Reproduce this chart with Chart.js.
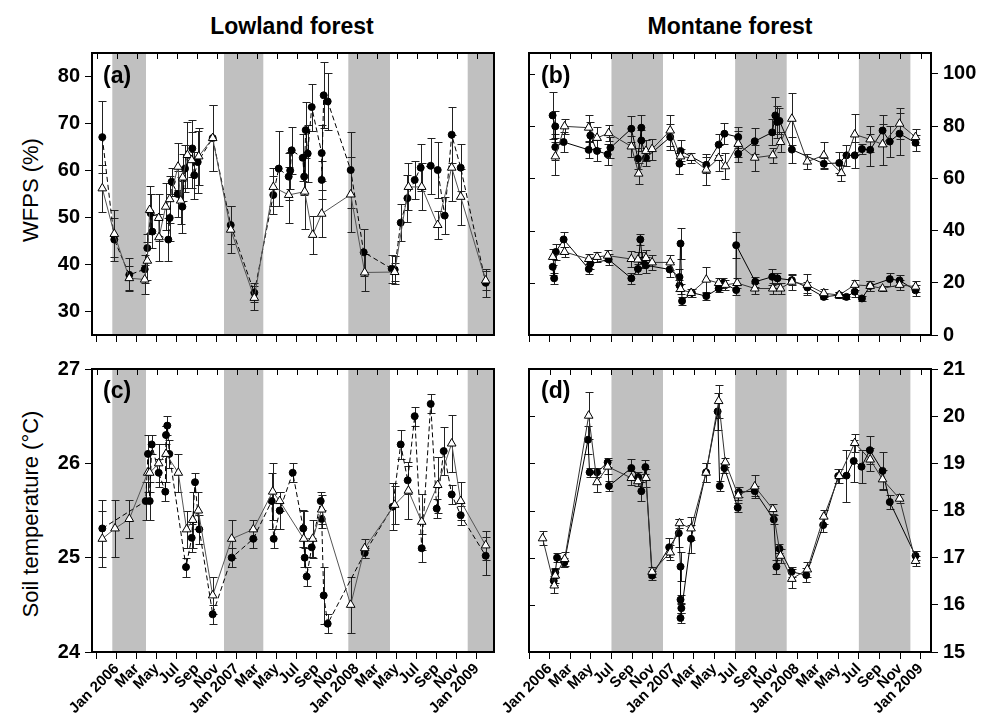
<!DOCTYPE html>
<html>
<head>
<meta charset="utf-8">
<script src="https://cdn.jsdelivr.net/npm/chart.js@4.4.1/dist/chart.umd.min.js"></script>
<style>
  body { margin: 0; background: #fff; width: 982px; height: 720px; position: relative; overflow: hidden;
         font-family: Arial, "Liberation Sans", sans-serif; color: #000; }
  canvas { position: absolute; }
  .title { position: absolute; top: 13px; font-weight: bold; font-size: 23px; transform: translateX(-50%); white-space: nowrap; }
  .ytitle { position: absolute; font-size: 22px; transform: translate(-50%, -50%) rotate(-90deg); white-space: nowrap; }
  .tag { position: absolute; font-weight: bold; font-size: 23px; line-height: 1; }
</style>
</head>
<body>
<div class="title" style="left:292px">Lowland forest</div>
<div class="title" style="left:730px">Montane forest</div>
<div class="ytitle" style="left:31px; top:190px">WFPS (%)</div>
<div class="ytitle" style="left:31px; top:514px">Soil temperature (°C)</div>

<canvas id="wfpsLow" width="510" height="355" style="left:0; top:0"></canvas>
<canvas id="wfpsMont" width="484" height="355" style="left:498px; top:0"></canvas>
<canvas id="tempLow" width="510" height="380" style="left:0; top:340px"></canvas>
<canvas id="tempMont" width="484" height="380" style="left:498px; top:340px"></canvas>

<div class="tag" style="left:103px; top:64px">(a)</div>
<div class="tag" style="left:541px; top:64px">(b)</div>
<div class="tag" style="left:103px; top:379px">(c)</div>
<div class="tag" style="left:541px; top:379px">(d)</div>

<script>
const FONT = 'Arial, "Liberation Sans", sans-serif';

// x values are months counted from Jan 2006
const monthLabels = ['Jan 2006', 'Mar', 'May', 'Jul', 'Sep', 'Nov',
  'Jan 2007', 'Mar', 'May', 'Jul', 'Sep', 'Nov',
  'Jan 2008', 'Mar', 'May', 'Jul', 'Sep', 'Nov', 'Jan 2009'];
const xTickMonths = [-2, 0, 2, 4, 6, 8, 10, 12, 14, 16, 18, 20, 22, 24, 26, 28, 30, 32, 34, 36];

// shaded seasons [from, to]
const lowlandShade = [[-0.44, 2.93], [10.73, 14.66], [23.16, 27.33], [35.1, 40]];
const montaneShade = [[6, 11], [18, 23], [30, 35]];

const lowWfpsTicks = [30, 40, 50, 60, 70, 80];
const montWfpsTicks = [0, 20, 40, 60, 80, 100];
const lowTempTicks = [24, 25, 26, 27];
const montTempTicks = [15, 16, 17, 18, 19, 20, 21];

// [month, mean, error]
const lowWfpsDots = [[-1.44, 67.1, 7.6], [-0.24, 45.3, 4.5], [1.26, 37.8, 3.5], [2.8, 39.0, 3], [3.06, 43.5, 3],
  [3.4, 50.9, 4], [3.56, 47.0, 3.5], [5.16, 45.3, 4.5], [5.3, 49.9, 5], [5.5, 57.6, 3], [6.1, 55.0, 5],
  [6.57, 52.3, 5.5], [6.83, 60.4, 5], [7.56, 64.7, 6], [7.76, 59.0, 5], [8.1, 61.8, 6.5], [9.6, 66.9, 7],
  [11.4, 48.4, 4], [13.76, 34.0, 2], [15.66, 54.8, 4], [16.2, 60.4, 8], [17.2, 58.7, 5], [17.35, 60.0, 4],
  [17.5, 64.3, 5], [18.6, 62.7, 5], [18.75, 58.7, 4], [18.9, 68.6, 6], [19.1, 63.6, 6], [19.5, 73.5, 5],
  [20.5, 63.7, 6], [20.5, 58.0, 4], [20.7, 76.0, 7], [21.1, 74.7, 6], [23.4, 60.1, 8], [24.7, 42.6, 5],
  [27.5, 39.1, 3], [27.8, 38.9, 3], [28.4, 48.9, 4], [29.07, 54.1, 5], [29.8, 58.0, 4], [30.4, 60.6, 5],
  [31.4, 61.0, 6], [32.1, 60.1, 6], [32.8, 50.4, 4], [33.5, 67.6, 6], [34.4, 60.6, 5], [36.9, 36.1, 3]];
const lowWfpsTris = [[-1.44, 56.2, 5], [-0.24, 46.5, 5], [1.26, 37.1, 2.5], [2.8, 36.8, 3], [3.06, 40.8, 4],
  [3.3, 51.6, 5], [4.2, 49.9, 5], [4.23, 45.8, 5], [4.9, 52.3, 5], [5.3, 53.9, 5], [6.13, 60.8, 5],
  [6.4, 53.6, 5], [6.6, 58.5, 5], [7.07, 63.3, 7], [7.5, 62.2, 6], [8.2, 63.0, 6], [9.6, 66.9, 7],
  [11.4, 47.4, 5], [13.76, 32.9, 2.5], [15.66, 56.5, 4], [17.2, 54.8, 6], [18.8, 55.5, 8], [19.6, 46.3, 4],
  [20.5, 50.8, 5], [23.4, 54.9, 8], [24.8, 38.3, 4], [27.8, 38.4, 2], [29.17, 56.5, 5], [30.5, 56.5, 5],
  [32.1, 48.4, 3], [33.5, 60.6, 7], [34.4, 54.4, 6], [36.9, 36.6, 2]];

const montWfpsDotsHigh = [[0.29, 84.1, 9], [0.55, 79.9, 6], [0.55, 72.0, 5], [1.36, 73.9, 4], [3.79, 70.9, 3],
  [3.95, 76.4, 5], [4.6, 70.5, 4], [5.63, 69.2, 4], [5.9, 71.7, 4], [7.93, 79.0, 5], [8.57, 67.5, 4],
  [8.9, 79.4, 5], [8.9, 74.5, 4], [9.35, 67.9, 3], [11.7, 75.8, 5], [12.6, 65.6, 4], [12.7, 70.5, 4],
  [15.2, 65.2, 3], [16.4, 72.9, 4], [16.96, 77.1, 4], [18.3, 75.8, 4], [18.3, 69.4, 3], [19.9, 74.2, 5],
  [21.6, 77.6, 5], [21.9, 84.1, 7], [22.07, 81.6, 6], [22.3, 82.0, 5], [23.5, 71.0, 5], [26.6, 65.6, 2],
  [28.1, 65.9, 4], [28.8, 68.8, 4], [29.6, 68.8, 5], [30.3, 71.2, 2], [31.1, 70.9, 6], [32.3, 78.3, 6],
  [33.0, 74.1, 6], [33.95, 77.1, 8], [35.5, 73.6, 3]];
const montWfpsTrisHigh = [[0.56, 68.4, 7], [1.45, 79.9, 3], [3.79, 79.4, 5], [4.6, 75.5, 4], [5.73, 77.3, 3],
  [7.93, 72.2, 4], [8.64, 61.8, 4], [9.35, 70.5, 4], [9.94, 71.2, 4], [11.7, 78.3, 6], [12.7, 68.4, 3],
  [13.73, 67.8, 2], [15.2, 63.3, 6], [16.4, 67.8, 5], [17.05, 64.6, 5], [18.3, 73.2, 5], [19.9, 67.9, 5],
  [21.65, 68.8, 3], [22.4, 73.9, 4], [23.5, 82.8, 10], [25.0, 66.4, 3], [26.6, 68.8, 5], [28.3, 62.0, 3],
  [29.6, 76.8, 8], [31.1, 74.9, 5], [32.3, 73.0, 8], [33.95, 80.9, 6], [35.5, 75.8, 3]];
const montWfpsDotsLow = [[0.3, 26.1, 3], [0.44, 21.7, 2], [0.6, 31.8, 3], [1.36, 36.6, 3], [3.8, 25.3, 2],
  [3.95, 27.3, 2], [5.73, 28.9, 2], [7.93, 21.7, 2], [8.57, 25.3, 2], [8.8, 36.6, 2], [9.0, 28.6, 3],
  [9.35, 26.7, 3], [11.65, 25.1, 3], [12.6, 22.2, 3], [12.6, 19.0, 2], [12.7, 35.0, 6], [12.85, 13.0, 1.5],
  [13.8, 16.2, 1.5], [15.2, 14.9, 1.5], [16.4, 17.8, 1.5], [16.85, 20.0, 2], [18.1, 17.2, 2], [18.1, 34.4, 5],
  [19.95, 20.4, 2], [21.6, 22.3, 3], [22.1, 21.7, 2], [23.5, 21.0, 2], [25.0, 18.2, 2], [26.6, 14.6, 1],
  [28.1, 15.3, 1], [28.8, 14.6, 1], [29.6, 16.6, 2], [30.3, 14.0, 1], [31.1, 18.8, 2], [33.0, 21.4, 2.5],
  [33.95, 20.9, 2], [35.5, 17.1, 2]];
const montWfpsTrisLow = [[0.3, 29.9, 3], [1.45, 31.8, 2], [3.8, 29.1, 2], [4.6, 29.9, 2], [5.63, 30.4, 2],
  [7.93, 29.1, 3], [8.57, 28.9, 3], [9.35, 29.5, 3], [9.94, 27.8, 3], [11.7, 27.8, 3], [12.7, 17.6, 2],
  [13.73, 16.1, 1.5], [15.2, 21.2, 5], [16.4, 19.9, 2], [17.05, 19.2, 2], [18.2, 19.9, 2], [19.9, 17.8, 2],
  [21.65, 17.8, 2], [22.4, 17.8, 2], [23.5, 20.4, 3], [25.0, 19.2, 4], [26.6, 16.0, 1.5], [28.1, 15.3, 1],
  [29.6, 19.2, 2], [31.1, 18.8, 2], [32.3, 17.8, 1], [33.95, 19.2, 2], [35.5, 18.5, 2]];

const lowTempDots = [[-1.44, 25.31, 0.3], [2.9, 25.6, 0.2], [3.13, 26.1, 0.2], [3.3, 25.6, 0.2], [3.5, 26.2, 0.1],
  [4.2, 25.9, 0.15], [4.86, 25.7, 0.1], [4.93, 26.3, 0.1], [5.06, 26.4, 0.1], [5.26, 26.1, 0.15],
  [6.93, 24.9, 0.1], [7.5, 25.21, 0.15], [7.83, 25.8, 0.1], [8.26, 25.3, 0.15], [9.6, 24.4, 0.1],
  [11.5, 25.0, 0.1], [13.66, 25.2, 0.1], [15.5, 25.6, 0.3], [15.7, 25.2, 0.1], [16.3, 25.5, 0.2],
  [17.6, 25.9, 0.1], [18.66, 25.31, 0.2], [18.8, 25.0, 0.1], [19.0, 24.8, 0.1], [19.5, 25.11, 0.1],
  [20.4, 25.6, 0.1], [20.5, 25.41, 0.1], [20.7, 24.6, 0.3], [21.1, 24.3, 0.1], [24.8, 25.05, 0.05],
  [27.6, 25.54, 0.25], [28.4, 26.2, 0.15], [29.1, 25.82, 0.15], [29.8, 26.5, 0.1], [30.5, 25.1, 0.15],
  [31.4, 26.63, 0.1], [32.0, 25.52, 0.1], [32.7, 26.13, 0.25], [33.5, 25.67, 0.1], [34.4, 25.45, 0.1],
  [36.9, 25.02, 0.2]];
const lowTempTris = [[-1.44, 25.2, 0.3], [-0.17, 25.31, 0.3], [1.26, 25.41, 0.2], [3.1, 25.9, 0.2],
  [3.3, 25.9, 0.2], [4.2, 26.0, 0.2], [4.93, 26.1, 0.3], [6.16, 25.9, 0.2], [6.99, 25.3, 0.2],
  [7.6, 25.4, 0.3], [8.16, 25.5, 0.2], [9.6, 24.6, 0.2], [11.5, 25.2, 0.2], [13.66, 25.3, 0.1],
  [15.6, 25.7, 0.3], [16.3, 25.6, 0.1], [18.7, 25.2, 0.3], [19.6, 25.2, 0.2], [20.5, 25.51, 0.15],
  [23.4, 24.5, 0.3], [24.8, 25.1, 0.1], [27.8, 25.56, 0.2], [29.17, 25.71, 0.3], [30.5, 25.38, 0.3],
  [32.1, 25.77, 0.3], [33.5, 26.21, 0.3], [34.4, 25.6, 0.2], [36.9, 25.13, 0.15]];

const montTempDots = [[0.4, 16.51, 0.1], [0.55, 16.69, 0.1], [0.72, 17.0, 0.1], [1.43, 16.9, 0.1],
  [3.72, 19.5, 0.3], [3.88, 18.81, 0.1], [4.6, 18.81, 0.1], [5.63, 19.02, 0.1], [5.76, 18.52, 0.1],
  [7.93, 18.9, 0.2], [8.6, 18.71, 0.1], [8.9, 18.41, 0.2], [9.29, 18.92, 0.15], [9.94, 16.62, 0.1],
  [11.6, 17.22, 0.2], [12.53, 17.52, 0.3], [12.7, 16.81, 0.3], [12.7, 16.11, 0.1], [12.78, 15.93, 0.1],
  [12.7, 15.72, 0.1], [13.72, 17.4, 0.3], [15.18, 18.81, 0.2], [16.3, 20.1, 0.4], [16.5, 18.52, 0.1],
  [16.96, 18.9, 0.1], [18.25, 18.06, 0.1], [18.35, 18.39, 0.1], [19.9, 18.41, 0.1], [21.75, 17.81, 0.1],
  [22.0, 16.81, 0.15], [22.3, 17.19, 0.1], [23.47, 16.7, 0.1], [24.9, 16.63, 0.15], [26.54, 17.69, 0.15],
  [28.0, 18.73, 0.15], [28.8, 18.74, 0.55], [29.5, 19.05, 0.45], [30.26, 18.93, 0.35], [31.07, 19.28, 0.3],
  [32.3, 18.84, 0.4], [33.0, 18.18, 0.15], [35.5, 17.04, 0.1]];
const montTempTris = [[-0.68, 17.41, 0.15], [0.45, 16.41, 0.15], [0.55, 16.62, 0.15], [1.46, 16.97, 0.15],
  [3.79, 20.01, 0.5], [4.6, 18.6, 0.2], [5.63, 18.93, 0.15], [7.93, 18.69, 0.15], [8.57, 18.62, 0.1],
  [9.35, 18.69, 0.2], [9.94, 16.7, 0.1], [11.7, 17.11, 0.15], [12.6, 17.73, 0.1], [13.72, 17.62, 0.25],
  [15.18, 18.8, 0.2], [16.4, 20.32, 0.35], [17.05, 19.02, 0.1], [18.3, 18.32, 0.1], [19.9, 18.51, 0.25],
  [21.65, 18.03, 0.1], [22.4, 17.04, 0.15], [23.5, 16.55, 0.2], [25.0, 16.75, 0.15], [26.6, 17.87, 0.15],
  [28.1, 18.73, 0.15], [29.6, 19.43, 0.2], [31.1, 19.08, 0.25], [32.3, 18.66, 0.2], [33.95, 18.25, 0.1],
  [35.5, 16.93, 0.1]];

function toPoints(rows) {
  return rows.map(r => ({ x: r[0], y: r[1] }));
}

function dotSeries(rows, dashed) {
  return {
    data: toPoints(rows),
    errors: rows.map(r => r[2]),
    borderColor: '#000',
    borderWidth: 1,
    borderDash: dashed ? [5, 3] : [],
    pointStyle: 'circle',
    pointRadius: 3.5,
    pointBackgroundColor: '#000',
    pointBorderColor: '#000',
    pointBorderWidth: 1
  };
}

function triSeries(rows, lineColor) {
  return {
    data: toPoints(rows),
    errors: rows.map(r => r[2]),
    borderColor: lineColor,
    borderWidth: 1,
    pointStyle: 'triangle',
    pointRadius: 5,
    pointBackgroundColor: '#fff',
    pointBorderColor: '#000',
    pointBorderWidth: 1
  };
}

// season shading, error bars, closed frame and inward ticks
const panelDecor = {
  id: 'panelDecor',
  beforeDraw(chart, args, opts) {
    const { ctx, chartArea: a, scales: { x } } = chart;
    ctx.save();
    ctx.fillStyle = '#c0c0c0';
    opts.shade.forEach(([s, e]) => {
      const x0 = Math.max(x.getPixelForValue(s), a.left);
      const x1 = Math.min(x.getPixelForValue(e), a.right);
      if (x1 > x0) ctx.fillRect(x0, a.top, x1 - x0, a.bottom - a.top);
    });
    ctx.restore();
  },
  beforeDatasetsDraw(chart) {
    const { ctx, chartArea: a, scales: { x, y } } = chart;
    ctx.save();
    ctx.beginPath();
    ctx.rect(a.left, a.top, a.right - a.left, a.bottom - a.top);
    ctx.clip();
    ctx.strokeStyle = '#222';
    ctx.lineWidth = 1;
    chart.data.datasets.forEach(ds => {
      ds.data.forEach((p, i) => {
        const e = ds.errors[i];
        const px = Math.round(x.getPixelForValue(p.x)) + 0.5;
        const top = Math.round(y.getPixelForValue(p.y + e)) + 0.5;
        const bot = Math.round(y.getPixelForValue(p.y - e)) + 0.5;
        ctx.beginPath();
        ctx.moveTo(px, top); ctx.lineTo(px, bot);
        ctx.moveTo(px - 4, top); ctx.lineTo(px + 4, top);
        ctx.moveTo(px - 4, bot); ctx.lineTo(px + 4, bot);
        ctx.stroke();
      });
    });
    ctx.restore();
  },
  afterDraw(chart, args, opts) {
    const { ctx, chartArea: a, scales: { x, y } } = chart;
    ctx.save();
    ctx.strokeStyle = '#000';
    ctx.lineWidth = 2;
    const side = opts.innerSide === 'left' ? a.left : a.right;
    ctx.beginPath();
    ctx.moveTo(a.left - 1, a.top);
    ctx.lineTo(a.right + 1, a.top);
    ctx.moveTo(side, a.top);
    ctx.lineTo(side, a.bottom);
    ctx.stroke();
    ctx.lineWidth = 1;
    ctx.beginPath();
    x.ticks.forEach(t => {
      const px = Math.round(x.getPixelForValue(t.value)) + 0.5;
      ctx.moveTo(px, a.top);
      ctx.lineTo(px, a.top + 6);
    });
    if (opts.innerSide === 'left') {
      y.ticks.forEach(t => {
        const py = Math.round(y.getPixelForValue(t.value)) + 0.5;
        ctx.moveTo(a.left, py);
        ctx.lineTo(a.left + 6, py);
      });
    }
    ctx.stroke();
    ctx.restore();
  }
};

function makePanel(id, cfg) {
  new Chart(document.getElementById(id), {
    type: 'line',
    data: { datasets: cfg.datasets },
    options: {
      responsive: false,
      animation: false,
      devicePixelRatio: 1,
      layout: { padding: cfg.padding },
      plugins: {
        legend: { display: false },
        tooltip: { enabled: false },
        panelDecor: { shade: cfg.shade, innerSide: cfg.yPos === 'left' ? 'right' : 'left' }
      },
      scales: {
        x: {
          type: 'linear',
          position: 'bottom',
          min: cfg.xMin,
          max: cfg.xMax,
          afterBuildTicks: s => { s.ticks = xTickMonths.map(v => ({ value: v })); },
          afterFit: s => { s.height = cfg.xHeight; },
          ticks: {
            display: cfg.xLabels,
            autoSkip: false,
            minRotation: 45,
            maxRotation: 45,
            padding: 1,
            color: '#000',
            font: { family: FONT, weight: 'bold', size: 15 },
            callback: v => (v >= 0 ? monthLabels[v / 2] : '')
          },
          grid: { drawOnChartArea: false, tickLength: 7, color: '#000', lineWidth: 1 },
          border: { color: '#000', width: 2 }
        },
        y: {
          type: 'linear',
          position: cfg.yPos,
          min: cfg.yMin,
          max: cfg.yMax,
          afterBuildTicks: s => { s.ticks = cfg.yTicks.map(v => ({ value: v })); },
          afterFit: s => { s.width = cfg.yWidth; },
          ticks: {
            padding: 5,
            color: '#000',
            font: { family: FONT, weight: 'bold', size: 20 }
          },
          grid: { drawOnChartArea: false, tickLength: 7, color: '#000', lineWidth: 1 },
          border: { color: '#000', width: 2 }
        }
      }
    },
    plugins: [panelDecor]
  });
}

makePanel('wfpsLow', {
  datasets: [triSeries(lowWfpsTris, '#555'), dotSeries(lowWfpsDots, true)],
  shade: lowlandShade, xMin: -2.47, xMax: 37.73, xHeight: 20, xLabels: false,
  yPos: 'left', yMin: 25, yMax: 85, yTicks: lowWfpsTicks, yWidth: 92,
  padding: { top: 53, right: 16, left: 0, bottom: 0 }
});

makePanel('wfpsMont', {
  datasets: [triSeries(montWfpsTrisHigh, '#333'), dotSeries(montWfpsDotsHigh, false),
             triSeries(montWfpsTrisLow, '#333'), dotSeries(montWfpsDotsLow, false)],
  shade: montaneShade, xMin: -2, xMax: 37, xHeight: 20, xLabels: false,
  yPos: 'right', yMin: 0, yMax: 108, yTicks: montWfpsTicks, yWidth: 51,
  padding: { top: 53, right: 0, left: 31, bottom: 0 }
});

makePanel('tempLow', {
  datasets: [triSeries(lowTempTris, '#555'), dotSeries(lowTempDots, true)],
  shade: lowlandShade, xMin: -2.47, xMax: 37.73, xHeight: 68, xLabels: true,
  yPos: 'left', yMin: 24, yMax: 27, yTicks: lowTempTicks, yWidth: 92,
  padding: { top: 29, right: 16, left: 0, bottom: 0 }
});

makePanel('tempMont', {
  datasets: [triSeries(montTempTris, '#333'), dotSeries(montTempDots, false)],
  shade: montaneShade, xMin: -2, xMax: 37, xHeight: 68, xLabels: true,
  yPos: 'right', yMin: 15, yMax: 21, yTicks: montTempTicks, yWidth: 51,
  padding: { top: 29, right: 0, left: 31, bottom: 0 }
});
</script>
</body>
</html>
